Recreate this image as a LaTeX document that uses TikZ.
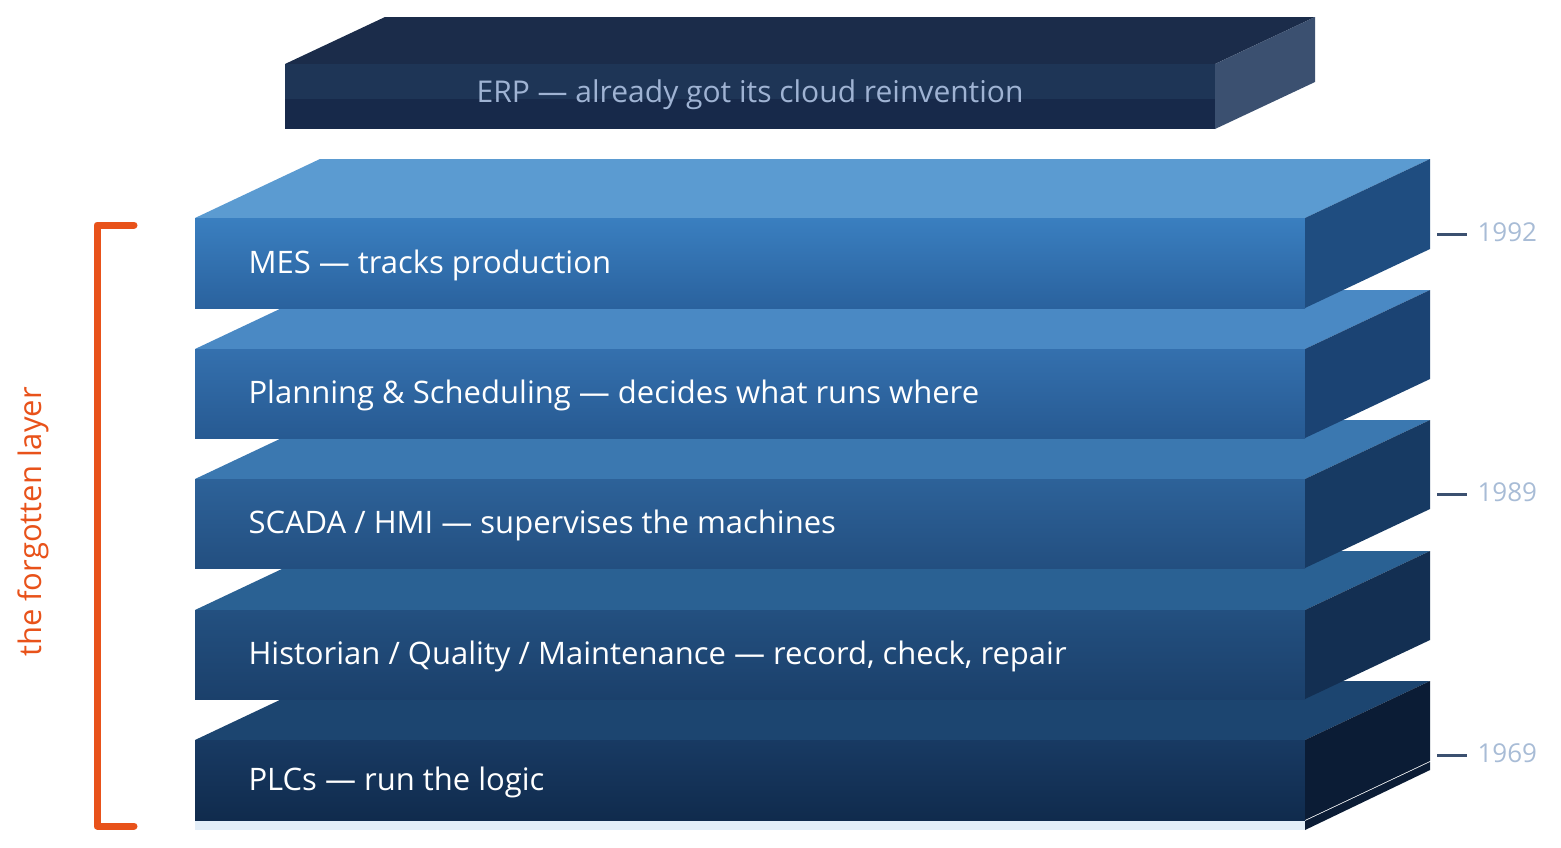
\documentclass[tikz,border=0pt]{standalone}
\usepackage{fontspec}
\setmainfont{Open Sans}
\begin{document}
\begin{tikzpicture}[x=1pt,y=-1pt,
  lbl/.style={anchor=west,text=white,font=\fontsize{31}{36}\selectfont},
  yr/.style={anchor=west,text=yearc,font=\fontsize{26}{30}\selectfont},
  tick/.style={draw=tickc,line width=3pt}]
\definecolor{yearc}{HTML}{A8BCD6}\definecolor{tickc}{HTML}{3B5070}
\definecolor{orng}{HTML}{E8521A}
\useasboundingbox (0,0) rectangle (1561,847);
% ERP
\fill[fill={rgb,255:red,27;green,44;blue,74}] (285,64)--(385,17)--(1315,17)--(1215,64)--cycle;
\fill[fill={rgb,255:red,30;green,53;blue,86}] (285,64) rectangle (1215,99);
\fill[fill={rgb,255:red,23;green,41;blue,74}] (285,99) rectangle (1215,129);
\fill[fill={rgb,255:red,59;green,80;blue,112}] (1215,64)--(1315,17)--(1315,82)--(1215,129)--cycle;
\node[text={rgb,255:red,159;green,179;blue,211},font=\fontsize{30}{34}\selectfont] (erp) at (750,95) {ERP — already got its cloud reinvention};
% layers
\foreach \y/\h/\tc/\fa/\fb/\sc/\name/\txt in {
 681/80/1C4570/183A63/102B4D/0B1C35/plc/{PLCs — run the logic},
 551/89/2A6193/235080/1B406B/132F52/hist/{Historian / Quality / Maintenance — record, check, repair},
 420/89/3B78B0/2D6299/234F80/173A63/scada/{SCADA / HMI — supervises the machines},
 290/89/4A89C4/3470AE/275A92/1B4373/plan/{Planning \& Scheduling — decides what runs where},
 159/90/5B9BD1/3A7FC0/2A629E/1F4D80/mes/{MES — tracks production}}{
 \definecolor{tc}{HTML}{\tc}\definecolor{fa}{HTML}{\fa}\definecolor{fb}{HTML}{\fb}\definecolor{sc}{HTML}{\sc}
 \fill[tc] (195,\y+59)--(320,\y)--(1430,\y)--(1305,\y+59)--cycle;
 \shade[top color=fa,bottom color=fb] (195,\y+59) rectangle (1305,\y+59+\h);
 \fill[sc] (1305,\y+59)--(1430,\y)--(1430,\y+\h)--(1305,\y+59+\h)--cycle;
 \node[lbl] (\name) at (245,\y+59+\h/2+2) {\txt};
}
\fill[fill={rgb,255:red,227;green,238;blue,248}] (195,821) rectangle (1305,830);
\fill[fill={rgb,255:red,11;green,28;blue,53}] (1305,821)--(1430,762)--(1430,770)--(1305,830)--cycle;
% bracket
\draw[orng,line width=7pt,line join=round,line cap=round] (134,225)--(97,225)--(97,826)--(134,826);
\node[rotate=90,text=orng,font=\fontsize{31}{36}\selectfont] (fl) at (33,522) {the forgotten layer};
% years
\coordinate (t1a) at (1437,234); \coordinate (t1b) at (1467,234);
\draw[tick] (t1a)--(t1b); \node[yr] (y1) at (1474,232) {1992};
\coordinate (t2a) at (1437,494); \coordinate (t2b) at (1467,494);
\draw[tick] (t2a)--(t2b); \node[yr] (y2) at (1474,492) {1989};
\coordinate (t3a) at (1437,755); \coordinate (t3b) at (1467,755);
\draw[tick] (t3a)--(t3b); \node[yr] (y3) at (1474,753) {1969};
\end{tikzpicture}
\end{document}
